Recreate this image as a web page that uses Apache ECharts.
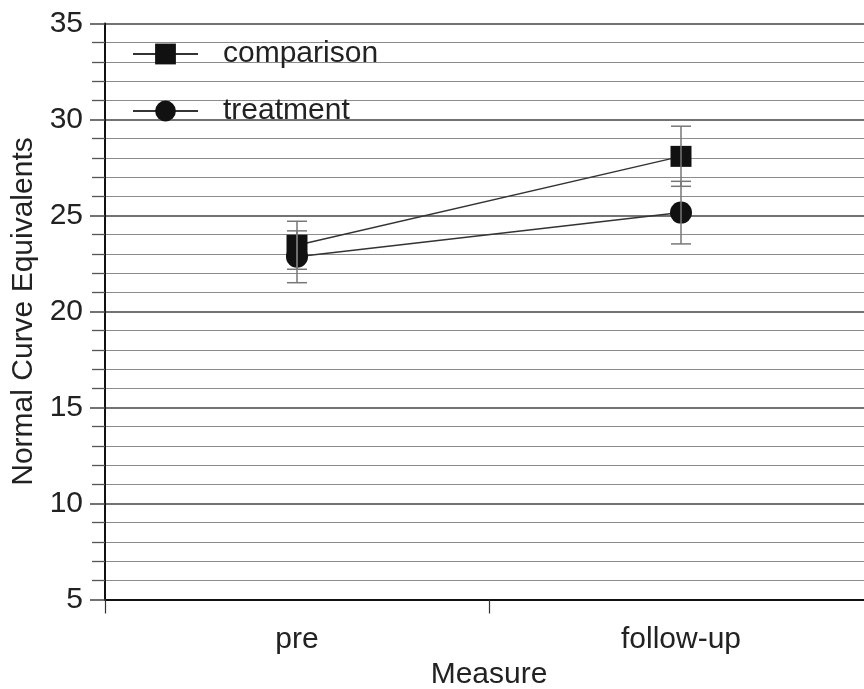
<!DOCTYPE html>
<html>
<head>
<meta charset="utf-8">
<script src="https://cdn.jsdelivr.net/npm/echarts@6/dist/echarts.min.js"></script>
<style>html,body{margin:0;padding:0;background:#fff;}#c{width:864px;height:689px;}</style>
</head>
<body>
<div id="c"></div>
<script>
var categories = ['pre', 'follow-up'];
var comparisonMean = [23.45, 28.08];
var comparisonLow = [22.2, 26.52];
var comparisonHigh = [24.7, 29.65];
var treatmentMean = [22.85, 25.15];
var treatmentLow = [21.5, 23.52];
var treatmentHigh = [24.2, 26.78];
var yTicks = [5, 10, 15, 20, 25, 30, 35];

var FONT = '"Liberation Sans", Arial, Helvetica, sans-serif';

function errData(low, high) {
  return categories.map(function (c, i) { return [i, low[i], high[i]]; });
}
function errRender(params, api) {
  var x = api.value(0);
  var lo = api.coord([x, api.value(1)]);
  var hi = api.coord([x, api.value(2)]);
  var w = 10;
  var st = { stroke: '#777', lineWidth: 1.5 };
  return {
    type: 'group',
    children: [
      { type: 'line', shape: { x1: lo[0], y1: lo[1], x2: hi[0], y2: hi[1] }, style: st },
      { type: 'line', shape: { x1: lo[0] - w, y1: lo[1], x2: lo[0] + w, y2: lo[1] }, style: st },
      { type: 'line', shape: { x1: hi[0] - w, y1: hi[1], x2: hi[0] + w, y2: hi[1] }, style: st }
    ]
  };
}

var chart = echarts.init(document.getElementById('c'), null, { renderer: 'canvas' });
chart.setOption({
  backgroundColor: '#fff',
  animation: false,
  textStyle: { fontFamily: FONT },
  grid: { left: 105, width: 768, top: 23.5, height: 576, containLabel: false, outerBoundsMode: 'none' },
  legend: {
    orient: 'vertical',
    left: 127,
    top: 34,
    itemWidth: 65,
    itemHeight: 26,
    itemGap: 27,
    data: ['comparison', 'treatment'],
    textStyle: { fontSize: 30, color: '#222', fontFamily: FONT, lineHeight: 26, padding: [0, 0, 0, 20] }
  },
  xAxis: {
    type: 'category',
    data: categories,
    boundaryGap: true,
    name: 'Measure',
    nameLocation: 'middle',
    nameGap: 56,
    nameTextStyle: { fontSize: 30, color: '#222', fontFamily: FONT },
    axisLine: { lineStyle: { color: '#111', width: 2 } },
    axisTick: { show: true, length: 14, lineStyle: { color: '#333', width: 1.2 } },
    axisLabel: { fontSize: 30, color: '#222', margin: 25, fontFamily: FONT },
    splitLine: { show: false }
  },
  yAxis: {
    type: 'value',
    min: yTicks[0],
    max: yTicks[yTicks.length - 1],
    interval: 5,
    name: 'Normal Curve Equivalents',
    nameLocation: 'middle',
    nameGap: 66,
    nameTextStyle: { fontSize: 30, color: '#222', fontFamily: FONT },
    axisLine: { show: true, lineStyle: { color: '#111', width: 2 } },
    axisTick: { show: true, length: 15, lineStyle: { color: '#444', width: 1.5 } },
    minorTick: { show: true, splitNumber: 5, length: 13, lineStyle: { color: '#555', width: 1.3 } },
    axisLabel: { fontSize: 30, color: '#222', margin: 22, fontFamily: FONT },
    splitLine: { show: true, lineStyle: { color: '#444', width: 1.6 } },
    minorSplitLine: { show: true, lineStyle: { color: '#8c8c8c', width: 1.2 } }
  },
  series: [
    {
      name: 'comparison',
      type: 'line',
      data: comparisonMean,
      symbol: 'rect',
      symbolSize: 21,
      itemStyle: { color: '#111' },
      lineStyle: { color: '#333', width: 1.5 },
      z: 3
    },
    {
      name: 'treatment',
      type: 'line',
      data: treatmentMean,
      symbol: 'circle',
      symbolSize: 22,
      itemStyle: { color: '#111' },
      lineStyle: { color: '#333', width: 1.5 },
      z: 3
    },
    {
      name: 'comparisonErr',
      type: 'custom',
      data: errData(comparisonLow, comparisonHigh),
      renderItem: errRender,
      z: 5,
      silent: true
    },
    {
      name: 'treatmentErr',
      type: 'custom',
      data: errData(treatmentLow, treatmentHigh),
      renderItem: errRender,
      z: 5,
      silent: true
    }
  ]
});
</script>
</body>
</html>
